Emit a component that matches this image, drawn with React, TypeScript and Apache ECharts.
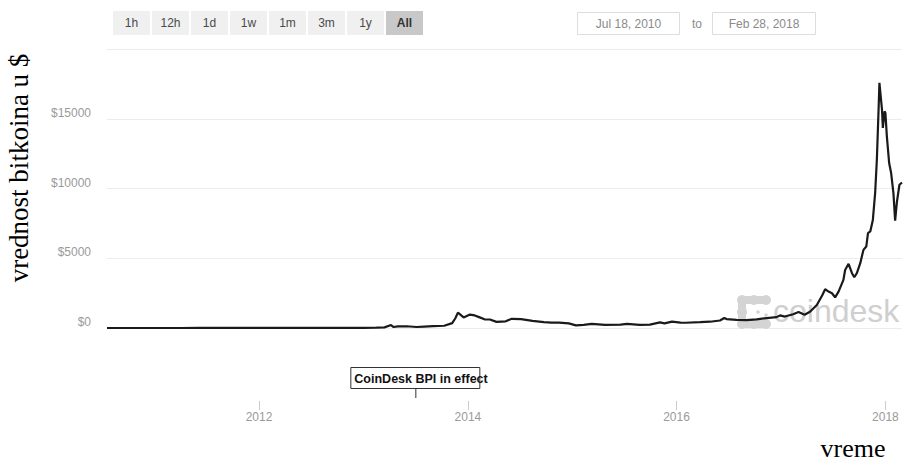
import React, { useEffect, useRef } from "react";
import * as echarts from "echarts";

// ---- data ----
const dates: string[] = [
  "2010-07-18", "2010-10-01", "2010-11-07", "2011-01-01", "2011-02-10", "2011-04-01",
  "2011-06-08", "2011-07-15", "2011-09-01", "2011-11-18", "2012-01-01", "2012-04-01",
  "2012-07-01", "2012-08-16", "2012-10-01", "2013-01-01", "2013-02-15", "2013-03-15",
  "2013-04-07", "2013-04-16", "2013-05-01", "2013-06-01", "2013-07-05", "2013-08-01",
  "2013-09-01", "2013-10-10", "2013-11-07", "2013-11-18", "2013-11-27", "2013-12-17",
  "2014-01-08", "2014-01-25", "2014-02-09", "2014-02-28", "2014-03-19", "2014-04-11",
  "2014-05-13", "2014-06-03", "2014-07-06", "2014-08-15", "2014-09-24", "2014-10-20",
  "2014-11-16", "2014-12-20", "2015-01-14", "2015-02-10", "2015-03-10", "2015-04-26",
  "2015-06-19", "2015-07-12", "2015-08-25", "2015-09-30", "2015-11-04", "2015-11-20",
  "2015-12-16", "2016-01-15", "2016-02-01", "2016-03-23", "2016-04-27", "2016-06-01",
  "2016-06-16", "2016-06-24", "2016-07-29", "2016-09-02", "2016-10-07", "2016-11-11",
  "2016-12-16", "2016-12-28", "2017-01-14", "2017-02-12", "2017-03-03", "2017-03-24",
  "2017-04-12", "2017-05-06", "2017-05-25", "2017-06-04", "2017-06-16", "2017-06-28",
  "2017-07-09", "2017-07-21", "2017-08-07", "2017-08-13", "2017-08-25", "2017-09-06",
  "2017-09-14", "2017-09-23", "2017-10-05", "2017-10-16", "2017-10-26", "2017-11-01",
  "2017-11-09", "2017-11-18", "2017-11-26", "2017-12-02", "2017-12-08", "2017-12-11",
  "2017-12-20", "2017-12-23", "2017-12-29", "2018-01-01", "2018-01-06", "2018-01-14",
  "2018-01-21", "2018-01-29", "2018-02-04", "2018-02-10", "2018-02-19", "2018-02-28",
];
const prices: number[] = [
  0.09, 0.06, 0.4, 0.3, 1.0, 0.8,
  18, 14, 8, 2.3, 5.3, 4.9,
  6.7, 13.5, 12.4, 13.5, 27, 47,
  210, 70, 120, 125, 70, 105,
  135, 160, 350, 700, 1100, 760,
  960, 900, 780, 620, 610, 440,
  480, 660, 630, 510, 420, 380,
  390, 330, 190, 230, 290, 225,
  245, 300, 220, 240, 400, 330,
  460, 380, 375, 415, 450, 540,
  720, 640, 580, 560, 620, 710,
  780, 900, 820, 990, 1150, 950,
  1170, 1650, 2350, 2780, 2610, 2490,
  2200, 2610, 3450, 4160, 4600, 3930,
  3640, 3930, 4650, 5600, 5840, 6800,
  6920, 7750, 9670, 12060, 15650, 17570,
  15650, 14340, 15530, 15410, 13740, 11830,
  11110, 9670, 7700, 9000, 10270, 10430,
];
const startDate = "2010-07-18";
const endDate = "2018-02-28";
const yTicks: number[] = [0, 5000, 10000, 15000, 20000];
const xTickYears: number[] = [2012, 2014, 2016, 2018];
const rangeButtons: string[] = ["1h", "12h", "1d", "1w", "1m", "3m", "1y", "All"];
const activeButton = "All";
const fromLabel = "Jul 18, 2010";
const toWord = "to";
const toLabel = "Feb 28, 2018";
const flagDate = "2013-07-01";
const flagText = "CoinDesk BPI in effect";
const yTitle = "vrednost bitkoina u $";
const xTitle = "vreme";
const watermark = "coindesk";

const SANS = "'Liberation Sans', Arial, sans-serif";
const SERIF = "'Liberation Serif', 'Times New Roman', serif";

function ts(s: string): number {
  const [y, m, d] = s.split("-").map(Number);
  return Date.UTC(y, m - 1, d);
}

export default function App() {
  const ref = useRef<HTMLDivElement>(null);

  useEffect(() => {
    const chart = echarts.init(ref.current!, null, { renderer: "svg" });
    const minT = ts(startDate);
    const maxT = ts(endDate);
    const tickVals = xTickYears.map((y) => Date.UTC(y, 0, 1));
    const seriesData = dates.map((d, i) => [ts(d), prices[i]]);

    chart.setOption({
      animation: false,
      backgroundColor: "#ffffff",
      grid: [
        { left: 107, right: 1, top: 49, height: 279 },
        { left: 107, right: 1, top: 400, height: 10 },
      ],
      xAxis: [
        {
          type: "value",
          gridIndex: 0,
          min: minT,
          max: maxT,
          axisLine: { show: false },
          axisTick: { show: false },
          axisLabel: { show: false },
          splitLine: { show: false },
        },
        {
          type: "value",
          gridIndex: 1,
          min: minT,
          max: maxT,
          axisLine: { show: false },
          axisTick: {
            show: true,
            inside: true,
            length: 9,
            customValues: tickVals,
            lineStyle: { color: "#cccccc", width: 1 },
          },
          axisLabel: {
            customValues: tickVals,
            formatter: (v: number) => String(new Date(v).getUTCFullYear()),
            color: "#9a9a9a",
            fontSize: 12,
            fontFamily: SANS,
            margin: 1,
          },
          splitLine: { show: false },
        },
      ],
      yAxis: [
        {
          type: "value",
          gridIndex: 0,
          min: yTicks[0],
          max: yTicks[yTicks.length - 1],
          interval: yTicks[1] - yTicks[0],
          axisLine: { show: false },
          axisTick: { show: false },
          axisLabel: {
            formatter: (v: number) => (v === yTicks[yTicks.length - 1] ? "" : "$" + v),
            color: "#9a9a9a",
            fontSize: 12,
            fontFamily: SANS,
            margin: 16,
            verticalAlign: "bottom",
          },
          splitLine: { show: true, lineStyle: { color: "#ececec", width: 1 } },
        },
        { type: "value", gridIndex: 1, min: 0, max: 1, show: false },
      ],
      series: [
        {
          type: "line",
          xAxisIndex: 0,
          yAxisIndex: 0,
          data: seriesData,
          showSymbol: false,
          symbol: "none",
          lineStyle: { color: "#1a1a1a", width: 2.2 },
          z: 5,
        },
      ],
    });

    const flagX = chart.convertToPixel({ xAxisIndex: 0 }, ts(flagDate)) as number;

    const buttons: any[] = rangeButtons.map((b, i) => {
      const active = b === activeButton;
      return {
        type: "group",
        x: 113 + i * 39,
        y: 11,
        children: [
          {
            type: "rect",
            shape: { x: 0, y: 0, width: 37, height: 24 },
            style: { fill: active ? "#c8c8c8" : "#f0f0f0" },
          },
          {
            type: "text",
            x: 18.5,
            y: 12,
            style: {
              text: b,
              align: "center",
              verticalAlign: "middle",
              fill: active ? "#333333" : "#4a4a4a",
              font: (active ? "bold " : "") + "12px " + SANS,
            },
          },
        ],
      };
    });

    const logoFill = "#d4d4d4";
    const dot = (cx: number, cy: number, r: number) => ({
      type: "circle",
      shape: { cx, cy, r },
      style: { fill: logoFill },
    });

    chart.setOption({
      graphic: [
        ...buttons,
        {
          type: "rect",
          shape: { x: 577.5, y: 12.5, width: 102, height: 22 },
          style: { fill: "#ffffff", stroke: "#dddddd", lineWidth: 1 },
        },
        {
          type: "text",
          x: 628.5,
          y: 23.5,
          style: { text: fromLabel, align: "center", verticalAlign: "middle", fill: "#8a8a8a", font: "12px " + SANS },
        },
        {
          type: "text",
          x: 697,
          y: 23.5,
          style: { text: toWord, align: "center", verticalAlign: "middle", fill: "#8a8a8a", font: "12px " + SANS },
        },
        {
          type: "rect",
          shape: { x: 712.5, y: 12.5, width: 103, height: 22 },
          style: { fill: "#ffffff", stroke: "#dddddd", lineWidth: 1 },
        },
        {
          type: "text",
          x: 764,
          y: 23.5,
          style: { text: toLabel, align: "center", verticalAlign: "middle", fill: "#8a8a8a", font: "12px " + SANS },
        },
        // watermark (under the line)
        {
          type: "group",
          z: 0,
          children: [
            { type: "rect", shape: { x: 738, y: 296, width: 32, height: 8, r: 4 }, style: { fill: logoFill } },
            { type: "rect", shape: { x: 738, y: 296, width: 8, height: 32, r: 4 }, style: { fill: logoFill } },
            { type: "rect", shape: { x: 738, y: 320, width: 32, height: 8, r: 4 }, style: { fill: logoFill } },
            dot(742, 300, 5),
            dot(754, 300, 5),
            dot(766, 300, 5),
            dot(742, 312, 5),
            dot(742, 324, 5),
            dot(754, 324, 5),
            dot(766, 324, 5),
            dot(758, 312, 1.8),
            dot(766, 315, 1.8),
            {
              type: "text",
              x: 773,
              y: 311,
              style: { text: watermark, align: "left", verticalAlign: "middle", fill: "#cfcfcf", font: "32px " + SANS },
            },
          ],
        },
        // flag
        {
          type: "group",
          x: flagX,
          y: 0,
          children: [
            {
              type: "rect",
              shape: { x: -64.5, y: 367.5, width: 129, height: 21 },
              style: { fill: "#ffffff", stroke: "#333333", lineWidth: 1 },
            },
            {
              type: "text",
              x: -61,
              y: 378.5,
              style: { text: flagText, align: "left", verticalAlign: "middle", fill: "#111111", font: "bold 12.5px " + SANS },
            },
            {
              type: "line",
              shape: { x1: 0.5, y1: 388.5, x2: 0.5, y2: 398 },
              style: { stroke: "#333333", lineWidth: 1 },
            },
          ],
        },
        // axis titles
        {
          type: "text",
          x: 19,
          y: 168,
          rotation: Math.PI / 2,
          style: { text: yTitle, align: "center", verticalAlign: "middle", fill: "#000000", font: "27px " + SERIF },
        },
        {
          type: "text",
          x: 853,
          y: 448,
          style: { text: xTitle, align: "center", verticalAlign: "middle", fill: "#000000", font: "26px " + SERIF },
        },
      ],
    });

    return () => chart.dispose();
  }, []);

  return <div ref={ref} style={{ position: "fixed", left: 0, top: 0, width: 903, height: 463 }} />;
}
